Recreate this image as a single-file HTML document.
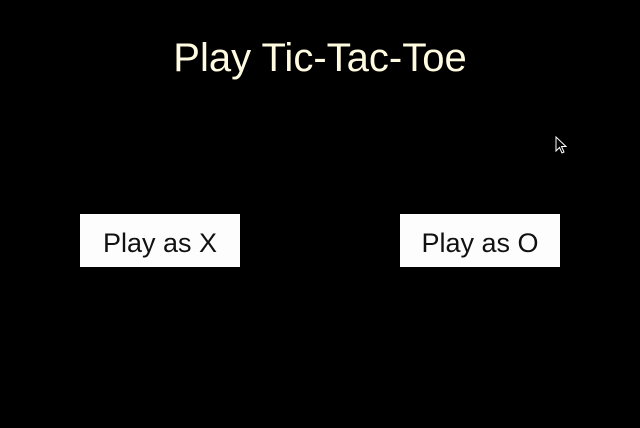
<!DOCTYPE html>
<html><head><style>
body{margin:0;width:640px;height:428px;background:#000;position:relative;overflow:hidden;font-family:"Liberation Sans",sans-serif}
.t{position:absolute;left:0;width:640px;top:33px;text-align:center;color:#fffbe0;font-size:40px;line-height:50px}
.b{position:absolute;top:214px;width:160px;height:53px;background:#fdfdfd;color:#111;font-size:27px;line-height:58px;text-align:center}
</style></head><body>
<div class="t">Play Tic-Tac-Toe</div>
<div class="b" style="left:80px">Play as X</div>
<div class="b" style="left:400px">Play as O</div>
<svg style="position:absolute;left:555px;top:136px" width="14" height="20"><path d="M1 1 L1 15 L4.5 11.5 L7 17 L9 16 L6.5 10.5 L11 10.5 Z" fill="#000" stroke="#fff" stroke-width="1"/></svg>
</body></html>
